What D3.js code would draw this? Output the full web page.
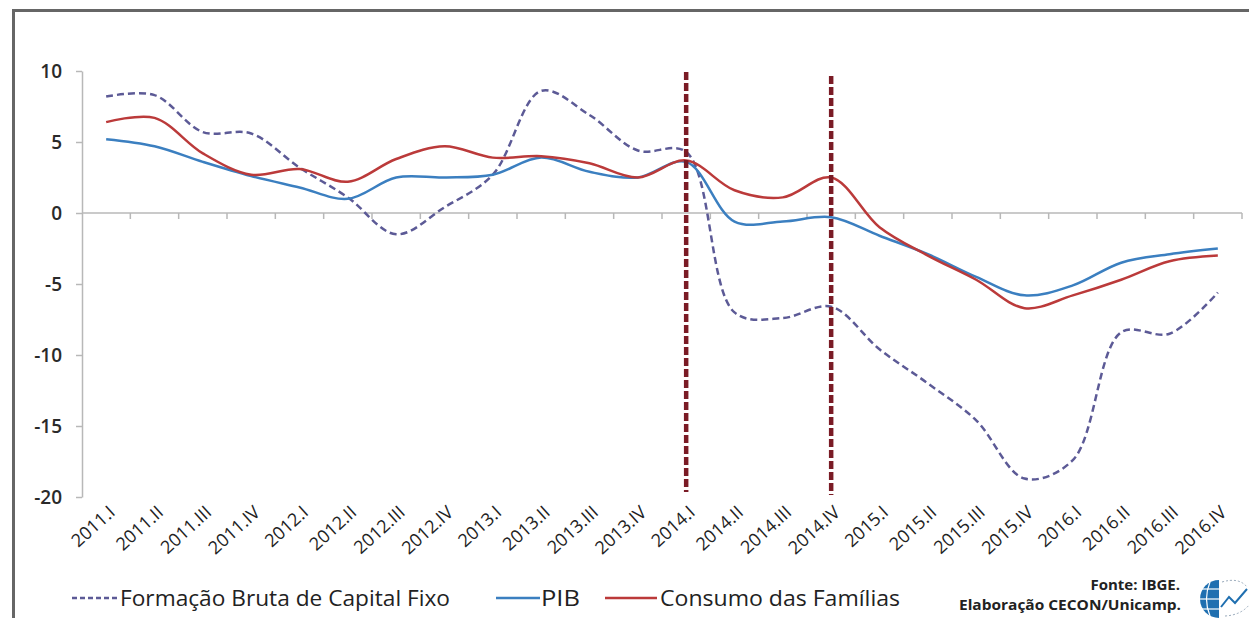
<!DOCTYPE html>
<html><head><meta charset="utf-8">
<script src="https://cdn.jsdelivr.net/npm/d3@7"></script>
<style>body{margin:0;background:#fff;} svg{display:block;font-family:"Open Sans",sans-serif;}</style>
</head><body>
<div id="chart"></div>
<script>
const categories = ["2011.I","2011.II","2011.III","2011.IV","2012.I","2012.II","2012.III","2012.IV","2013.I","2013.II","2013.III","2013.IV","2014.I","2014.II","2014.III","2014.IV","2015.I","2015.II","2015.III","2015.IV","2016.I","2016.II","2016.III","2016.IV"];
const fbcf = [8.2,8.3,5.7,5.6,3.2,1.1,-1.5,0.4,2.7,8.6,6.9,4.4,4.3,-7.0,-7.4,-6.6,-9.6,-12.0,-14.6,-18.7,-17.4,-8.4,-8.5,-5.6];
const pib = [5.2,4.7,3.6,2.6,1.8,1.0,2.5,2.5,2.7,3.9,2.9,2.5,3.6,-0.6,-0.6,-0.3,-1.6,-2.9,-4.5,-5.8,-5.1,-3.5,-2.9,-2.5];
const consumo = [6.4,6.7,4.2,2.7,3.1,2.2,3.8,4.7,3.9,4.0,3.5,2.5,3.7,1.6,1.1,2.5,-1.0,-3.0,-4.7,-6.7,-5.8,-4.7,-3.4,-3.0];
const yTicks = [10,5,0,-5,-10,-15,-20];
const markers = ["2014.I","2014.IV"];
const seriesNames = ["Formação Bruta de Capital Fixo","PIB","Consumo das Famílias"];

const W = 1249, H = 618;
const svg = d3.select("#chart").append("svg").attr("width",W).attr("height",H);
svg.append("rect").attr("width",W).attr("height",H).attr("fill","#fff");
// outer frame
svg.append("path").attr("d",`M13.5,${H+5} V10.5 H${W+5}`).attr("fill","none").attr("stroke","#666").attr("stroke-width",3);

const x = d3.scaleBand().domain(categories).range([82,1242]).padding(0);
const y = d3.scaleLinear().domain([-20,10]).range([497,71]);

// y axis
const yAxis = svg.append("g").attr("transform","translate(82,0)")
  .call(d3.axisLeft(y).tickValues(yTicks).tickSize(6).tickSizeOuter(0).tickFormat(d=>String(d)));
yAxis.select(".domain").attr("stroke","#b8b8b8").attr("stroke-width",1.5);
yAxis.selectAll(".tick line").attr("stroke","#b8b8b8").attr("stroke-width",1.5);
yAxis.selectAll(".tick text").attr("font-size",19).attr("fill","#2a2a2a").attr("x",-20).attr("font-family","'Open Sans',sans-serif").attr("font-weight",600);

// x axis at zero
const xb = categories.map(c=>x(c)).concat([x(categories[categories.length-1])+x.bandwidth()]);
svg.append("line").attr("x1",82).attr("x2",1242).attr("y1",y(0)).attr("y2",y(0)).attr("stroke","#b8b8b8").attr("stroke-width",1.5);
svg.selectAll(".xt").data(xb.slice(1)).enter().append("line")
  .attr("x1",d=>d).attr("x2",d=>d).attr("y1",y(0)).attr("y2",y(0)+6).attr("stroke","#b8b8b8").attr("stroke-width",1.5);

// x labels
svg.selectAll(".xl").data(categories).enter().append("text")
  .attr("transform",d=>`translate(${x(d)+x.bandwidth()/2+10},${514}) rotate(-42)`)
  .attr("text-anchor","end").attr("font-size",18).attr("fill","#222")
  .attr("font-family","'Open Sans',sans-serif")
  .text(d=>d);

const cx = d => x(d)+x.bandwidth()/2;
const line = d3.line().x((d,i)=>cx(categories[i])).y(d=>y(d)).curve(d3.curveCatmullRom.alpha(0.5));

svg.append("path").datum(fbcf).attr("d",line).attr("fill","none").attr("stroke","#5c5a96").attr("stroke-width",2.5).attr("stroke-dasharray","7,4");
svg.append("path").datum(pib).attr("d",line).attr("fill","none").attr("stroke","#3b7fc0").attr("stroke-width",2.5);
svg.append("path").datum(consumo).attr("d",line).attr("fill","none").attr("stroke","#bb3a3a").attr("stroke-width",2.5);

// markers
const mTop = [72,76];
markers.forEach((m,i)=>{
  svg.append("line").attr("x1",cx(m)).attr("x2",cx(m)).attr("y1",mTop[i]).attr("y2",y(-20)-5+i*3)
    .attr("stroke","#7a1b25").attr("stroke-width",4.5).attr("stroke-dasharray","8,3");
});

// legend
const lg = svg.append("g").attr("font-size",21).attr("fill","#222");
const legItems = [
  {x1:72,x2:118,color:"#5c5a96",dash:"5,3",tx:120,tw:330},
  {x1:496,x2:540,color:"#3b7fc0",dash:null,tx:541,tw:39},
  {x1:605,x2:657,color:"#bb3a3a",dash:null,tx:660,tw:240}
];
legItems.forEach((it,i)=>{
  lg.append("line").attr("x1",it.x1).attr("x2",it.x2).attr("y1",598).attr("y2",598)
    .attr("stroke",it.color).attr("stroke-width",2.5).attr("stroke-dasharray",it.dash);
  lg.append("text").attr("x",it.tx).attr("y",606).attr("textLength",it.tw).attr("lengthAdjust","spacingAndGlyphs").text(seriesNames[i]).attr("fill","#222");
});

// source
svg.append("text").attr("x",1180).attr("y",590).attr("text-anchor","end").attr("font-size",15).attr("font-weight",700).attr("fill","#222").text("Fonte: IBGE.");
svg.append("text").attr("x",1181).attr("y",610).attr("text-anchor","end").attr("font-size",15).attr("font-weight",700).attr("fill","#222").attr("textLength",222).attr("lengthAdjust","spacingAndGlyphs").text("Elaboração CECON/Unicamp.");

// logo
const lgo = svg.append("g").attr("transform","translate(1219,599)");
lgo.append("path").attr("d",d3.arc()({innerRadius:0,outerRadius:19,startAngle:Math.PI,endAngle:2*Math.PI})).attr("fill","#1f6fb0");
[-10,0,10].forEach(dy=>lgo.append("line").attr("x1",-19).attr("x2",0).attr("y1",dy).attr("y2",dy).attr("stroke","#fff").attr("stroke-width",1.2));
lgo.append("path").attr("d","M-9,-17 Q-16,0 -9,17").attr("fill","none").attr("stroke","#fff").attr("stroke-width",1.2);
lgo.append("path").attr("d","M2,8 L10,-2 L16,4 L28,-10").attr("fill","none").attr("stroke","#1f6fb0").attr("stroke-width",2);
lgo.append("path").attr("d","M3,-17 Q20,-22 28,-12").attr("fill","none").attr("stroke","#9ab").attr("stroke-width",1).attr("stroke-dasharray","2,2");
lgo.append("path").attr("d","M6,17 Q22,16 30,6").attr("fill","none").attr("stroke","#9ab").attr("stroke-width",1).attr("stroke-dasharray","2,2");
</script>
</body></html>
